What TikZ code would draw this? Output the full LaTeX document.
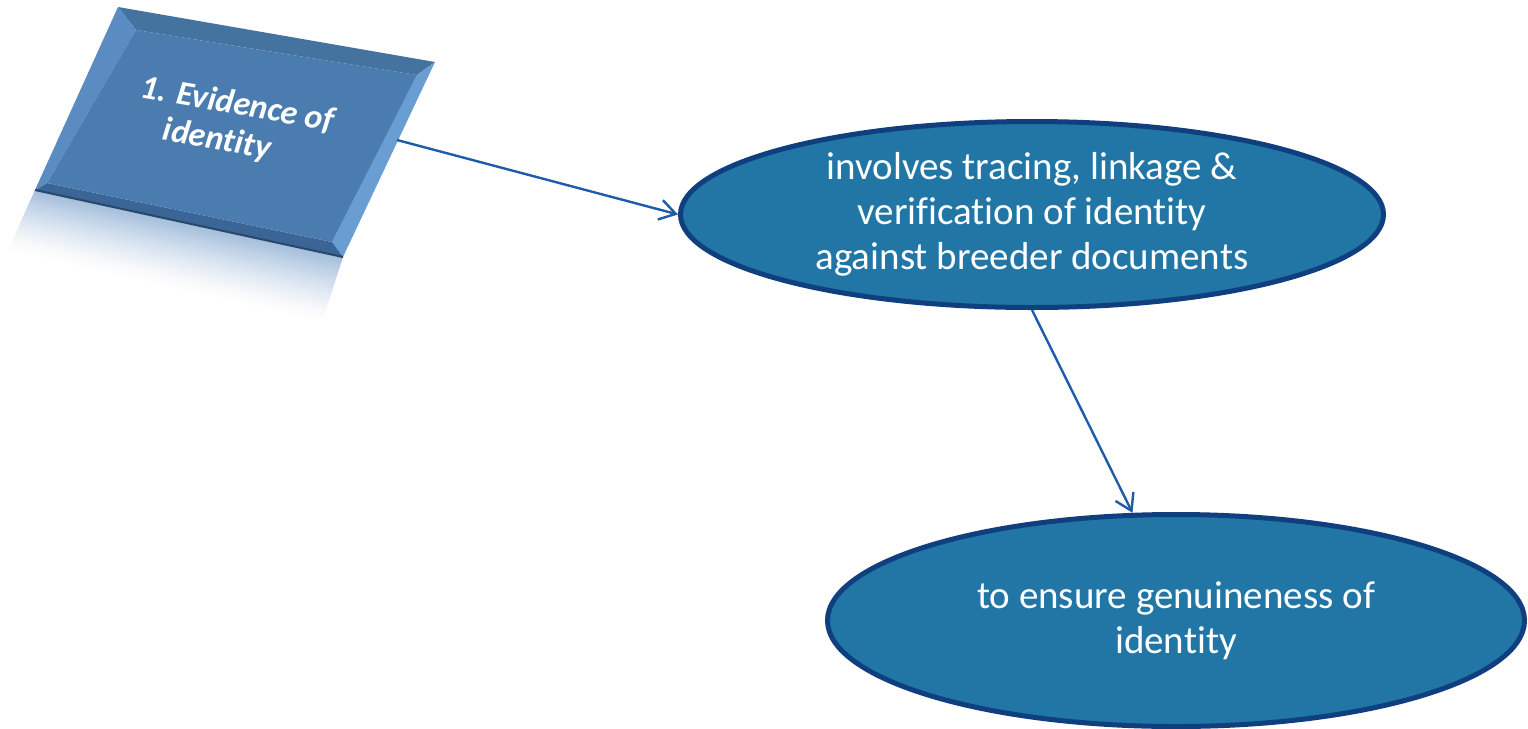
\documentclass[tikz,border=0pt]{standalone}
\usepackage{fontspec}
\setmainfont{Carlito}[Ligatures={NoCommon,NoContextual}]
\usetikzlibrary{arrows.meta,calc,shapes.geometric}
\definecolor{ovalfill}{HTML}{2176A6}
\definecolor{ovalline}{HTML}{0F3F7F}
\definecolor{linkblue}{HTML}{1E5BAA}
\definecolor{tileface}{HTML}{4A7CAF}
\definecolor{tiletop}{HTML}{44739F}
\definecolor{tileleft}{HTML}{5A8CC2}
\definecolor{tileright}{HTML}{6A9ED3}
\definecolor{tilebottom}{HTML}{3A6596}
\definecolor{glow}{HTML}{86A9D0}

\begin{document}
\begin{tikzpicture}[x=0.5pt,y=-0.5pt,
  oval/.style={ellipse, draw=ovalline, line width=2.5pt, fill=ovalfill,
    text=white, inner sep=0pt, align=center,
    font=\fontsize{19.5}{22.5}\selectfont},
  link/.style={draw=linkblue, line width=1.2pt,
    -{Straight Barb[length=8pt,width=10pt,line width=1.2pt]}},
  tilelabel/.style={rotate=-10, align=center, text=white,
    font=\fontsize{17}{19}\selectfont\bfseries\itshape}]
\useasboundingbox (0,0) rectangle (1528,729);

% corners of the bevelled tile (outer rim and inner face)
\coordinate (A) at (118,7);
\coordinate (B) at (435,62);
\coordinate (C) at (343,257);
\coordinate (D) at (35,190);
\coordinate (a) at (136,30);
\coordinate (b) at (417,75);
\coordinate (c) at (332,242);
\coordinate (d) at (47,183);
\coordinate (Cr) at (322,322);
\coordinate (Dr) at (8,250);

% fading reflection below the tile, built from thin strips
\foreach \i in {0,...,29}{
  \pgfmathsetmacro{\ta}{\i/30}
  \pgfmathsetmacro{\tb}{min(1,(\i+1.3)/30)}
  \pgfmathsetmacro{\amt}{75*(1-\i/30)^1.4}
  \fill[glow!\amt!white] ($(D)!\ta!(Dr)$) -- ($(C)!\ta!(Cr)$)
    -- ($(C)!\tb!(Cr)$) -- ($(D)!\tb!(Dr)$) -- cycle;
}

% the tile itself
\fill[tiletop] (A) -- (B) -- (b) -- (a) -- cycle;
\fill[tileright] (B) -- (C) -- (c) -- (b) -- cycle;
\fill[tilebottom] (C) -- (D) -- (d) -- (c) -- cycle;
\fill[tileleft] (D) -- (A) -- (a) -- (d) -- cycle;
\fill[tileface] (a) -- (b) -- (c) -- (d) -- cycle;
\draw[tilebottom!70!black, line width=1pt] (D) -- (C);

\node[tilelabel] (tile) at (234,124) {1. Evidence of\\\hspace*{-14pt}identity};
\coordinate (tileout) at (397,140);

% the two ovals
\node[oval, minimum width=351.5pt, minimum height=93pt] (e1) at (1032,214.5)
  {involves tracing, linkage \&\\verification of identity\\against breeder documents};
\node[oval, minimum width=348.5pt, minimum height=106pt] (e2) at (1176,620.5)
  {to ensure genuineness of\\identity};

% connectors
\draw[link] (tileout) -- (e1.west);
\draw[link] (e1.south) -- (e2.112);
\end{tikzpicture}
\end{document}
